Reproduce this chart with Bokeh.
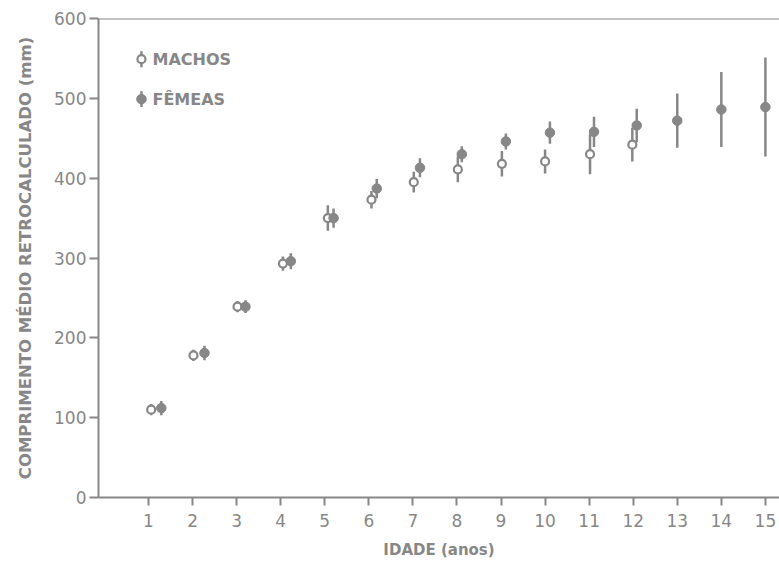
from bokeh.plotting import figure
from bokeh.models import Range1d, FixedTicker, Span, Label, ColumnDataSource
from bokeh.embed import file_html
from bokeh.resources import INLINE

# ---- data ----
ages_m = [1, 2, 3, 4, 5, 6, 7, 8, 9, 10, 11, 12]
mean_m = [110, 178, 239, 293, 350, 373, 395, 411, 418, 421, 430, 442]
sd_m = [7, 7, 7, 9, 16, 11, 13, 16, 16, 15, 25, 21]
shift_m = [0.06, 0.02, 0.02, 0.05, 0.07, 0.06, 0.02, 0.02, 0.02, 0.0, 0.02, -0.02]

ages_f = [1, 2, 3, 4, 5, 6, 7, 8, 9, 10, 11, 12, 13, 14, 15]
mean_f = [112, 181, 239, 296, 350, 387, 413, 430, 446, 457, 458, 466, 472, 486, 489]
sd_f = [9, 9, 8, 10, 12, 12, 12, 10, 10, 14, 19, 21, 34, 47, 62]
shift_f = [0.29, 0.27, 0.2, 0.23, 0.2, 0.18, 0.16, 0.11, 0.11, 0.11, 0.11, 0.08, 0.0, 0.0, 0.0]

x_ticks = list(range(1, 16))
y_ticks = [0, 100, 200, 300, 400, 500, 600]
legend_labels = ["MACHOS", "FÊMEAS"]
x_title = "IDADE (anos)"
y_title = "COMPRIMENTO MÉDIO RETROCALCULADO (mm)"

GREY = "#878787"
FONT = "DejaVu Sans"

src_m = ColumnDataSource(dict(
    x=[a + s for a, s in zip(ages_m, shift_m)],
    y=mean_m,
    lo=[m - s for m, s in zip(mean_m, sd_m)],
    hi=[m + s for m, s in zip(mean_m, sd_m)],
))
src_f = ColumnDataSource(dict(
    x=[a + s for a, s in zip(ages_f, shift_f)],
    y=mean_f,
    lo=[m - s for m, s in zip(mean_f, sd_f)],
    hi=[m + s for m, s in zip(mean_f, sd_f)],
))

p = figure(width=779, height=566, output_backend="svg", toolbar_location=None,
           x_range=Range1d(-0.135, 15.32), y_range=Range1d(0, 600),
           min_border_left=98, min_border_right=0, min_border_top=18,
           min_border_bottom=69)
p.outline_line_color = None
p.grid.visible = False
p.background_fill_color = "white"
p.border_fill_color = "white"

for ax in (p.xaxis[0], p.yaxis[0]):
    ax.axis_line_color = GREY
    ax.axis_line_width = 2
    ax.major_tick_line_color = GREY
    ax.major_tick_line_width = 2
    ax.major_tick_in = 0
    ax.minor_tick_line_color = None
    ax.major_label_text_color = GREY
    ax.major_label_text_font = FONT
    ax.major_label_text_font_size = "17px"
    ax.axis_label_text_color = GREY
    ax.axis_label_text_font = FONT
    ax.axis_label_text_font_style = "bold"
    ax.axis_label_text_font_size = "15px"

p.xaxis.ticker = FixedTicker(ticks=x_ticks)
p.xaxis.major_tick_out = 8
p.xaxis.major_label_standoff = 8
p.xaxis.axis_label = x_title
p.xaxis.axis_label_standoff = 11

p.yaxis.ticker = FixedTicker(ticks=y_ticks)
p.yaxis.major_tick_out = 9
p.yaxis.major_label_standoff = 3
p.yaxis.axis_label = y_title
p.yaxis.axis_label_text_font_size = "16.5px"
p.yaxis.axis_label_standoff = 16

p.add_layout(Span(location=600, dimension="width", line_color=GREY, line_width=2))

# error bars
p.segment(x0="x", y0="lo", x1="x", y1="hi", source=src_m, line_color=GREY, line_width=2.5)
p.segment(x0="x", y0="lo", x1="x", y1="hi", source=src_f, line_color=GREY, line_width=2.5)
# points
p.scatter(x="x", y="y", source=src_m, size=8, fill_color="white", line_color=GREY, line_width=2.2)
p.scatter(x="x", y="y", source=src_f, size=9.5, fill_color=GREY, line_color=GREY, line_width=1)

# legend key (manual, to show the vertical bar through the symbol)
leg_x = 0.84
leg_y = [549, 499]
leg_half = 10
p.segment(x0=[leg_x, leg_x], y0=[y - leg_half for y in leg_y], x1=[leg_x, leg_x],
          y1=[y + leg_half for y in leg_y], line_color=GREY, line_width=2.5)
p.scatter(x=[leg_x], y=[leg_y[0]], size=8, fill_color="white", line_color=GREY, line_width=2.2)
p.scatter(x=[leg_x], y=[leg_y[1]], size=9.5, fill_color=GREY, line_color=GREY, line_width=1)
for lbl, yy in zip(legend_labels, leg_y):
    p.add_layout(Label(x=leg_x + 0.25, y=yy, text=lbl, text_color=GREY, text_font=FONT,
                       text_font_style="bold", text_font_size="16px", text_baseline="middle"))

open("out.html", "w").write(file_html(p, INLINE))
